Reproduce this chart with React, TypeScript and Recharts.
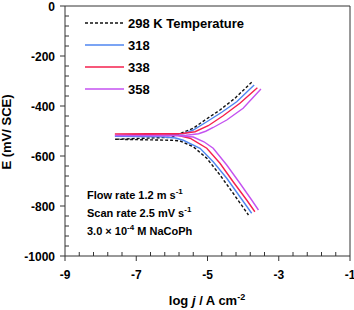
import { LineChart, Line, XAxis, YAxis, ReferenceLine } from "recharts";

// log j (A cm-2) and E (mV/SCE), traced anodic end -> Ecorr -> cathodic end
const logj298 = [-3.76, -4.23, -4.65, -5.07, -5.4, -5.69, -6.0, -7.6, -6.0, -5.77, -5.4, -5.02, -4.65, -4.28, -3.85];
const e298 = [-305, -369, -416, -456, -489, -506, -525, -533, -537, -540, -563, -609, -676, -749, -836];

const logj318 = [-3.69, -4.18, -4.6, -5.02, -5.4, -5.65, -6.2, -7.6, -6.3, -5.9, -5.68, -5.21, -4.84, -4.46, -4.09, -3.76];
const e318 = [-316, -383, -425, -463, -496, -510, -518, -521, -523, -528, -537, -569, -623, -689, -763, -829];

const logj338 = [-3.6, -4.09, -4.56, -4.98, -5.35, -5.7, -7.6, -5.9, -5.49, -5.02, -4.65, -4.28, -3.9, -3.67];
const e338 = [-327, -389, -439, -479, -503, -510, -512, -515, -529, -569, -629, -703, -776, -823];

const logj358 = [-3.5, -4.0, -4.46, -4.84, -5.05, -5.25, -5.6, -7.6, -5.8, -5.4, -5.1, -4.84, -4.46, -4.09, -3.76, -3.57];
const e358 = [-332, -409, -456, -486, -501, -511, -517, -518, -519, -524, -543, -569, -636, -709, -776, -816];

const seriesNames = ["298 K Temperature", "318", "338", "358"];
const seriesColors = ["#111111", "#4f86f0", "#f5204e", "#c452f0"];

const xMajor = [-9, -7, -5, -3, -1];
const xTicks = [
  -9, -8.6, -8.2, -7.8, -7.4, -7, -6.6, -6.2, -5.8, -5.4, -5, -4.6, -4.2, -3.8, -3.4, -3, -2.6, -2.2, -1.8, -1.4, -1,
];
const yMajor = [0, -200, -400, -600, -800, -1000];
const yTicks = [
  0, -40, -80, -120, -160, -200, -240, -280, -320, -360, -400, -440, -480, -520, -560, -600, -640, -680, -720, -760,
  -800, -840, -880, -920, -960, -1000,
];

const zip = (xs: number[], ys: number[]) => xs.map((x, i) => ({ logj: x, E: ys[i] }));
const series = [zip(logj298, e298), zip(logj318, e318), zip(logj338, e338), zip(logj358, e358)];

const FONT = "'Liberation Sans', Arial, sans-serif";
const AXIS = "#333";

const isMajor = (list: number[], v: number) => list.some((m) => Math.abs(m - v) < 1e-6);

function XTick(props: any) {
  const { x, y, payload } = props;
  const major = isMajor(xMajor, payload.value);
  return (
    <g>
      {major ? (
        <line x1={x} x2={x} y1={y} y2={y + 5} stroke={AXIS} />
      ) : (
        <line x1={x} x2={x} y1={y} y2={y - 4} stroke={AXIS} />
      )}
      {major && (
        <text x={x} y={y + 23} textAnchor="middle" fontFamily={FONT} fontWeight="bold" fontSize={12} fill="#000">
          {payload.value}
        </text>
      )}
    </g>
  );
}

function YTick(props: any) {
  const { x, y, payload } = props;
  const major = isMajor(yMajor, payload.value);
  return (
    <g>
      {major ? (
        <line x1={x - 5} x2={x} y1={y} y2={y} stroke={AXIS} />
      ) : (
        <line x1={x} x2={x + 4} y1={y} y2={y} stroke={AXIS} />
      )}
      {major && (
        <text x={x - 10} y={y + 4.5} textAnchor="end" fontFamily={FONT} fontWeight="bold" fontSize={12} fill="#000">
          {payload.value}
        </text>
      )}
    </g>
  );
}

export default function App() {
  return (
    <div style={{ position: "absolute", left: 0, top: 0, width: 354, height: 310, background: "#fff" }}>
      <LineChart width={354} height={310} margin={{ top: 6, right: 4, bottom: 0, left: 0 }}>
        <XAxis
          dataKey="logj"
          type="number"
          domain={[-9, -1]}
          ticks={xTicks}
          interval={0}
          tickSize={0}
          tickMargin={0}
          tick={<XTick />}
          height={54}
          axisLine={{ stroke: AXIS }}
          tickLine={false}
        />
        <YAxis
          type="number"
          domain={[-1000, 0]}
          ticks={yTicks}
          interval={0}
          tickSize={0}
          tickMargin={0}
          tick={<YTick />}
          width={65}
          axisLine={{ stroke: AXIS }}
          tickLine={false}
        />
        <ReferenceLine y={0} stroke={AXIS} />
        <ReferenceLine x={-1} stroke={AXIS} />
        {series.map((d, i) => (
          <Line
            key={seriesNames[i]}
            data={d}
            dataKey="E"
            name={seriesNames[i]}
            type="linear"
            stroke={seriesColors[i]}
            strokeWidth={1.4}
            strokeDasharray={i === 0 ? "3 2" : undefined}
            dot={false}
            isAnimationActive={false}
          />
        ))}
      </LineChart>
      <svg
        width={354}
        height={310}
        style={{ position: "absolute", left: 0, top: 0, pointerEvents: "none" }}
        fontFamily={FONT}
        fontWeight="bold"
      >
        {seriesNames.map((n, i) => (
          <g key={n}>
            <line
              x1={85}
              x2={124}
              y1={23 + i * 22}
              y2={23 + i * 22}
              stroke={seriesColors[i]}
              strokeWidth={1.4}
              strokeDasharray={i === 0 ? "3 2" : undefined}
            />
            <text x={128} y={27.5 + i * 22} fontSize={13} fill="#000">
              {n}
            </text>
          </g>
        ))}
        <text x={87} y={199} fontSize={11} fill="#000">
          Flow rate 1.2 m s<tspan dy={-5} fontSize={8}>-1</tspan>
        </text>
        <text x={87} y={217} fontSize={11} fill="#000">
          Scan rate 2.5 mV s<tspan dy={-5} fontSize={8}>-1</tspan>
        </text>
        <text x={87} y={235} fontSize={11} fill="#000">
          3.0 × 10<tspan dy={-5} fontSize={8}>-4</tspan>
          <tspan dy={5}> M NaCoPh</tspan>
        </text>
        <text x={207} y={305} textAnchor="middle" fontSize={13} fill="#000">
          log <tspan fontStyle="italic">j</tspan> / A cm<tspan dy={-5} fontSize={9}>-2</tspan>
        </text>
        <text x={11} y={132} textAnchor="middle" fontSize={13} fill="#000" transform="rotate(-90 11 132)">
          E (mV/ SCE)
        </text>
      </svg>
    </div>
  );
}
